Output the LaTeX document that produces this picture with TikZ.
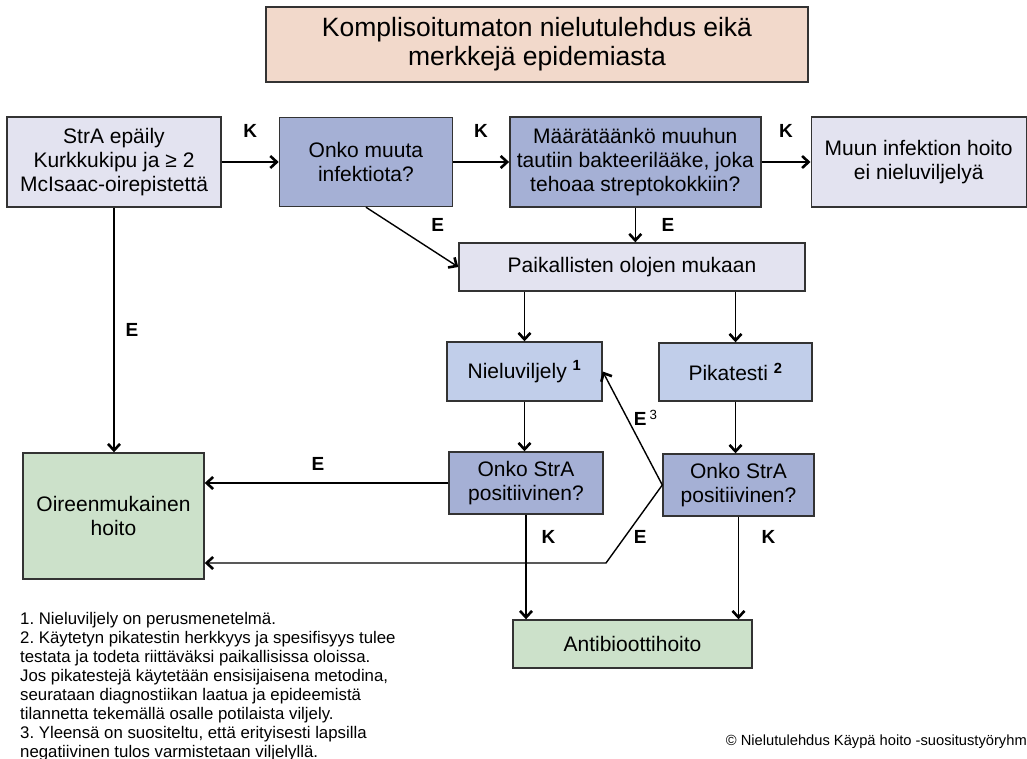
\documentclass[tikz,border=0pt]{standalone}
\usepackage{fontspec}
\setmainfont{Liberation Sans}
\usetikzlibrary{arrows.meta, positioning}
\frenchspacing

\definecolor{boxline}{HTML}{333333}
\definecolor{lightbox}{HTML}{E3E3F0}
\definecolor{darkbox}{HTML}{A5B0D5}
\definecolor{testbox}{HTML}{C1CEEA}
\definecolor{curebox}{HTML}{CCE1CA}
\definecolor{titlebox}{HTML}{F2D9CB}

\begin{document}
\begin{tikzpicture}[x=1pt, y=-1pt,
    node distance=56pt,
    box/.style={draw=boxline, line width=1.4pt, align=center, inner sep=2pt, font=\fontsize{21}{23.7}\selectfont},
    light/.style={box, fill=lightbox},
    dark/.style={box, fill=darkbox},
    test/.style={box, fill=testbox},
    cure/.style={box, fill=curebox},
    lab/.style={font=\fontsize{19}{21}\selectfont\bfseries, inner sep=0pt},
    arrow/.style={draw, line width=1.4pt, -{Straight Barb[length=6.5pt, width=12pt, line width=2.6pt]}}
]
    \useasboundingbox (0,0) rectangle (1027,759);

    % Title
    \node[box, fill=titlebox, minimum width=542pt, minimum height=75pt, font=\fontsize{26.5}{29}\selectfont] (title) at (537,44.5) {Komplisoitumaton nielutulehdus eikä\\merkkejä epidemiasta};

    % Top row
    \node[light, minimum width=214pt, minimum height=90pt] (stra) at (114,162) {StrA epäily\\Kurkkukipu ja ≥ 2\\McIsaac-oirepistettä};
    \node[dark, minimum width=173pt, minimum height=89pt, right=57pt of stra] (muuta) {Onko muuta\\infektiota?};
    \node[dark, minimum width=251pt, minimum height=90pt, right=56pt of muuta] (maar) {Määrätäänkö muuhun\\tautiin bakteerilääke, joka\\tehoaa streptokokkiin?};
    \node[light, minimum width=215pt, minimum height=90pt, right=49pt of maar] (muun) {Muun infektion hoito\\ei nieluviljelyä};

    % Tests
    \node[light, minimum width=346pt, minimum height=48pt] (paik) at (632,267) {Paikallisten olojen mukaan};
    \node[test, minimum width=155pt, minimum height=59pt] (niel) at (524.5,371.5) {Nieluviljely \textsuperscript{\bfseries 1}};
    \node[test, minimum width=153pt, minimum height=58pt] (pika) at (735.5,372) {Pikatesti \textsuperscript{\bfseries 2}};
    \node[dark, minimum width=154pt, minimum height=62pt] (posA) at (526,483) {Onko StrA\\positiivinen?};
    \node[dark, minimum width=151pt, minimum height=62pt] (posB) at (738.5,485) {Onko StrA\\positiivinen?};

    % Outcomes
    \node[cure, minimum width=181pt, minimum height=126pt] (oire) at (113.5,516) {Oireenmukainen\\hoito};
    \node[cure, minimum width=239pt, minimum height=48pt] (anti) at (632.5,644) {Antibioottihoito};

    % Flow
    \draw[arrow] (stra) -- node[lab, above=23.5pt] {K} (muuta);
    \draw[arrow] (muuta) -- node[lab, above=23.5pt] {K} (maar);
    \draw[arrow] (maar) -- node[lab, above=23.5pt] {K} (muun);
    \draw[arrow] (muuta.south) -- node[lab, pos=0.3, right=37pt] {E} (paik.west);
    \draw[arrow] (maar.south) -- node[lab, right=25.5pt] {E} (maar.south |- paik.north);
    \draw[arrow] (niel.north |- paik.south) -- (niel.north);
    \draw[arrow] (pika.north |- paik.south) -- (pika.north);
    \draw[arrow] (niel.south) -- (niel.south |- posA.north);
    \draw[arrow] (pika.south) -- (pika.south |- posB.north);
    \draw[arrow] (stra.south) -- node[lab, right=11pt] {E} (stra.south |- oire.north);
    \draw[arrow] (posA.west) -- node[lab, pos=0.535, above=11.5pt] {E} (posA.west -| oire.east);
    \draw[arrow] (posB.west) -- node[lab, pos=0.59, right=6pt, anchor=west] {E\,\textsuperscript{\mdseries 3}} (niel.east);
    \coordinate (bend) at (606,563);
    \draw[arrow] (posB.west) -- (bend) -- (bend -| oire.east);
    \path (posB.west) -- node[lab, pos=0.667, right=9pt] {E} (bend);
    \draw[arrow] (posA.south) -- node[lab, pos=0.217, right=15pt] {K} (posA.south |- anti.north);
    \draw[arrow] (posB.south) -- node[lab, pos=0.2, right=22.5pt] {K} (posB.south |- anti.north);

    % Notes
    \node[anchor=north west, align=left, inner sep=0pt, font=\fontsize{16.8}{19}\selectfont] (notes) at (20,612) {1. Nieluviljely on perusmenetelmä.\\2. Käytetyn pikatestin herkkyys ja spesifisyys tulee\\testata ja todeta riittäväksi paikallisissa oloissa.\\Jos pikatestejä käytetään ensisijaisena metodina,\\seurataan diagnostiikan laatua ja epideemistä\\tilannetta tekemällä osalle potilaista viljely.\\3. Yleensä on suositeltu, että erityisesti lapsilla\\negatiivinen tulos varmistetaan viljelyllä.};
    \node[anchor=base east, inner sep=0pt, font=\fontsize{14.7}{17}\selectfont] (copy) at (1027,745) {© Nielutulehdus Käypä hoito -suositustyöryhm};
\end{tikzpicture}
\end{document}
